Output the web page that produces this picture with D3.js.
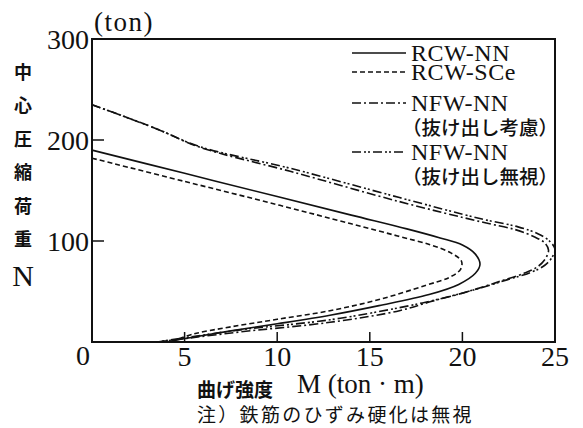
<!DOCTYPE html>
<html>
<head>
<meta charset="utf-8">
<script src="https://d3js.org/d3.v7.min.js"></script>
<style>
    body { margin: 0; background: #fff; }
    .num { font-family: "Liberation Serif", serif; fill: #111; }
    .jp { font-family: "Noto Sans CJK JP", sans-serif; fill: #111; }
</style>
</head>
<body>
<div id="chart"></div>
<script>
// M (ton·m) and N (ton) along each interaction curve
const rcwNN_M = [0, 5, 10, 14, 17, 18.8, 20.0, 20.7, 20.95, 20.7, 19.8, 18.2, 15.5, 12.85, 10, 7.5, 5.5, 4.0];
const rcwNN_N = [190, 167, 144, 125.6, 112, 103, 96, 87, 77, 68, 57, 47, 36, 26.5, 18, 11, 5, 0];

const rcwSCe_M = [0, 5, 10, 14, 16.5, 18.3, 19.4, 19.95, 19.9, 19.3, 18.0, 15.5, 12.85, 10, 7.5, 5.5, 4.2];
const rcwSCe_N = [182, 159, 136, 117, 105, 96, 88, 80, 72, 64, 56, 42, 31, 22.5, 15, 8, 0];

const nfwKoryo_M = [0, 3.5, 5.8, 10.7, 16.6, 21, 22.9, 23.9, 24.45, 24.65, 24.5, 24.1, 23.4, 22.1, 20.3, 18.3, 16.6, 12.85, 8, 5.3, 3.5];
const nfwKoryo_N = [235, 211, 193, 169, 139, 119, 111, 104, 98, 91, 83, 75, 68.5, 60.5, 50, 40, 31, 19.5, 10, 4, 0];

const nfwMushi_M = [0, 3.5, 5.8, 10.7, 16.6, 21, 23.0, 24.1, 24.7, 25.0, 24.85, 24.45, 23.7, 22.4, 20.5, 18.5, 16.6, 12.85, 8, 5.3, 3.5];
const nfwMushi_N = [235, 211, 193.5, 172, 143, 122, 114, 107, 100, 92, 84, 76, 69, 61.5, 51, 41.5, 34, 22, 12, 5, 0];

const xTicks = [5, 10, 15, 20, 25];
const yTicks = [100, 200, 300];

const series = [
    { name: "RCW-NN", sub: null, M: rcwNN_M, N: rcwNN_N, dash: null },
    { name: "RCW-SCe", sub: null, M: rcwSCe_M, N: rcwSCe_N, dash: "5,3" },
    { name: "NFW-NN", sub: "（抜け出し考慮）", M: nfwKoryo_M, N: nfwKoryo_N, dash: "9,3,2,3" },
    { name: "NFW-NN", sub: "（抜け出し無視）", M: nfwMushi_M, N: nfwMushi_N, dash: "9,3,2,2,2,3" }
];

const W = 583, H = 428;
const margin = { top: 39, right: 28, bottom: 86, left: 92 };

const svg = d3.select("#chart").append("svg")
    .attr("width", W)
    .attr("height", H);

const x = d3.scaleLinear().domain([0, 25]).range([margin.left, W - margin.right]);
const y = d3.scaleLinear().domain([0, 300]).range([H - margin.bottom, margin.top]);

// frame
svg.append("rect")
    .attr("x", x(0)).attr("y", y(300))
    .attr("width", x(25) - x(0)).attr("height", y(0) - y(300))
    .attr("fill", "none").attr("stroke", "#111").attr("stroke-width", 2);

// inner ticks
svg.selectAll(".xtick").data(xTicks.slice(0, -1)).enter().append("line")
    .attr("x1", d => x(d)).attr("x2", d => x(d))
    .attr("y1", y(0)).attr("y2", y(0) - 10)
    .attr("stroke", "#111").attr("stroke-width", 1.5);
svg.selectAll(".ytick").data(yTicks.slice(0, -1)).enter().append("line")
    .attr("x1", x(0)).attr("x2", x(0) + 12)
    .attr("y1", d => y(d)).attr("y2", d => y(d))
    .attr("stroke", "#111").attr("stroke-width", 1.5);

// tick labels
svg.selectAll(".xl").data(xTicks).enter().append("text")
    .attr("class", "num")
    .attr("x", d => x(d)).attr("y", y(0) + 24)
    .attr("text-anchor", "middle").attr("font-size", 28)
    .text(d => d);
svg.append("text").attr("class", "num")
    .attr("x", x(0) - 9).attr("y", y(0) + 23)
    .attr("text-anchor", "middle").attr("font-size", 28)
    .text("0");
svg.selectAll(".yl").data(yTicks).enter().append("text")
    .attr("class", "num")
    .attr("x", x(0) - 3).attr("y", d => y(d) + 10)
    .attr("text-anchor", "end").attr("font-size", 28)
    .text(d => d);
svg.append("text").attr("class", "num")
    .attr("x", x(0) + 2).attr("y", 31)
    .attr("font-size", 27).attr("letter-spacing", 1.5)
    .text("(ton)");

// axis titles
const yTitle = ["中", "心", "圧", "縮", "荷", "重"];
svg.selectAll(".yt").data(yTitle).enter().append("text")
    .attr("class", "jp")
    .attr("x", 23).attr("y", (d, i) => 79 + i * 33.4)
    .attr("text-anchor", "middle").attr("font-size", 18).attr("font-weight", "bold")
    .text(d => d);
svg.append("text").attr("class", "num")
    .attr("x", 23).attr("y", 286)
    .attr("text-anchor", "middle").attr("font-size", 30)
    .text("N");

svg.append("text").attr("class", "jp")
    .attr("x", 197).attr("y", 397)
    .attr("font-size", 19).attr("font-weight", "bold")
    .text("曲げ強度");
svg.append("text").attr("class", "num")
    .attr("x", 297).attr("y", 393)
    .attr("font-size", 27)
    .text("M (ton · m)");
svg.append("text").attr("class", "jp")
    .attr("x", 197).attr("y", 422)
    .attr("font-size", 19).attr("letter-spacing", 2.3)
    .text("注）鉄筋のひずみ硬化は無視");

// curves
const line = d3.line()
    .x(d => x(d[0]))
    .y(d => y(d[1]))
    .curve(d3.curveCatmullRom.alpha(0.5));

series.forEach(s => {
    svg.append("path")
        .datum(s.M.map((m, i) => [m, s.N[i]]))
        .attr("d", line)
        .attr("fill", "none")
        .attr("stroke", "#111")
        .attr("stroke-width", 1.6)
        .attr("stroke-dasharray", s.dash);
});

// legend
const legendRows = [53, 72, 103, 152];
const leg = svg.append("g");
series.forEach((s, i) => {
    const ly = legendRows[i];
    leg.append("line")
        .attr("x1", 352).attr("x2", 406)
        .attr("y1", ly).attr("y2", ly)
        .attr("stroke", "#111").attr("stroke-width", 1.6)
        .attr("stroke-dasharray", s.dash);
    leg.append("text").attr("class", "num")
        .attr("x", 411).attr("y", ly + 8)
        .attr("font-size", 24).attr("letter-spacing", 0.5)
        .text(s.name);
    if (s.sub) {
        leg.append("text").attr("class", "jp")
            .attr("x", 402).attr("y", ly + 32)
            .attr("font-size", 19.5).attr("font-weight", "500")
            .text(s.sub);
    }
});
</script>
</body>
</html>
